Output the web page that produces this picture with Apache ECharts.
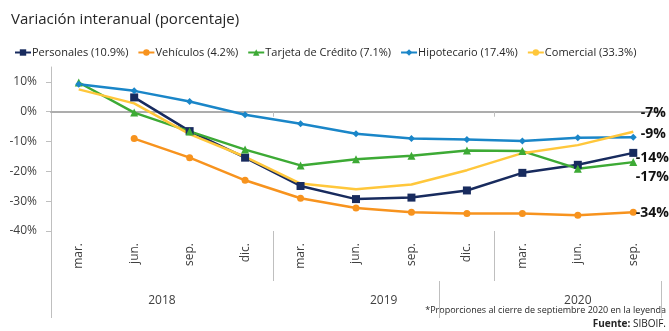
<!DOCTYPE html>
<html>
<head>
<meta charset="utf-8">
<script src="https://cdn.jsdelivr.net/npm/echarts@6/dist/echarts.min.js"></script>
<style>
  html, body { margin: 0; padding: 0; background: #fff; }
  #chart { width: 669px; height: 331px; }
</style>
</head>
<body>
<div id="chart"></div>
<script>
// Quarter-end months and their years
const months = ['mar.', 'jun.', 'sep.', 'dic.', 'mar.', 'jun.', 'sep.', 'dic.', 'mar.', 'jun.', 'sep.'];
const monthYears = ['2018', '2018', '2018', '2018', '2019', '2019', '2019', '2019', '2020', '2020', '2020'];

// Year groups on the lower axis row (label centre, in category units)
const years = ['2018', '2019', '2020'];
const yearCentres = [2, 6, 9.5];
const yearStarts = [4, 8];          // boundaries between year groups (upper row)
const yearDividers = [0, 7, 11];    // dividers drawn on the lower row

// Year-over-year change (%) by portfolio
const personales = [null, 4.8, -6.5, -15.4, -24.9, -29.3, -28.8, -26.4, -20.5, -17.8, -13.8];
const vehiculos = [null, -9.0, -15.4, -23.0, -29.0, -32.3, -33.7, -34.1, -34.1, -34.7, -33.7];
const tarjeta = [9.8, -0.3, -6.6, -12.7, -18.0, -15.9, -14.8, -13.0, -13.2, -19.1, -16.9];
const hipotecario = [9.2, 7.0, 3.4, -1.0, -4.0, -7.4, -9.0, -9.3, -9.8, -8.7, -8.6];
const comercial = [7.5, 2.8, -7.5, -15.1, -24.1, -26.0, -24.4, -19.6, -13.9, -11.2, -6.7];

const seriesNames = ['Personales (10.9%)', 'Vehículos (4.2%)', 'Tarjeta de Crédito (7.1%)', 'Hipotecario (17.4%)', 'Comercial (33.3%)'];

const categories = months.map((m, i) => m + ' ' + monthYears[i]);

const chart = echarts.init(document.getElementById('chart'), null, { renderer: 'canvas' });

const endLabelStyle = {
  show: true,
  position: 'right',
  distance: 0,
  formatter: p => Math.round(p.value) + '%',
  fontFamily: 'Open Sans',
  fontSize: 14,
  fontWeight: 'bold',
  color: '#111'
};

// Last value of each series gets its rounded value written beside it
function endMarker(values, offset) {
  const last = values.length - 1;
  return {
    silent: true,
    symbol: 'circle',
    symbolSize: 1,
    itemStyle: { color: 'rgba(0,0,0,0)' },
    label: Object.assign({}, endLabelStyle, { offset: offset }),
    data: [{ coord: [last, values[last]], value: values[last] }],
    animation: false
  };
}

function lineSeries(name, values, color, symbol, symbolSize, offset) {
  return {
    name: name,
    type: 'line',
    xAxisIndex: 0,
    data: values.map(v => (v === null ? '-' : v)),
    color: color,
    symbol: symbol,
    symbolSize: symbolSize,
    showSymbol: symbol !== 'none',
    lineStyle: { width: 2.5, color: color },
    itemStyle: { color: color },
    connectNulls: false,
    markPoint: endMarker(values, offset),
    animation: false,
    z: 3
  };
}

const axisGray = '#BFBFBF';

chart.setOption({
  animation: false,
  textStyle: { fontFamily: 'Open Sans' },
  title: {
    text: 'Variación interanual (porcentaje)',
    left: 6,
    top: 7,
    textStyle: { fontFamily: 'Open Sans', fontSize: 15, fontWeight: 'normal', color: '#262626' }
  },
  legend: {
    top: 42,
    left: 9,
    itemGap: 9,
    itemWidth: 16,
    itemHeight: 8,
    textStyle: { fontFamily: 'Open Sans', fontSize: 11, color: '#262626', padding: [0, 0, 0, -4] },
    data: seriesNames
  },
  grid: { left: 51, right: 8, top: 67, bottom: 100, containLabel: false },
  xAxis: [
    {
      // month row
      type: 'category',
      data: categories,
      boundaryGap: true,
      position: 'bottom',
      axisLine: { show: false, onZero: false },
      axisTick: { show: false },
      axisLabel: {
        rotate: 90,
        margin: 12,
        fontSize: 12,
        color: '#404040',
        formatter: v => v.split(' ')[0]
      },
      splitLine: { show: false }
    },
    {
      // upper-row dividers between years
      type: 'value',
      min: 0,
      max: 11,
      position: 'bottom',
      axisLine: { show: false, onZero: false },
      axisTick: { show: true, customValues: [0].concat(yearStarts), length: 50, lineStyle: { color: axisGray } },
      axisLabel: { show: false },
      splitLine: { show: false }
    },
    {
      // year row
      type: 'value',
      min: 0,
      max: 11,
      position: 'bottom',
      offset: 50,
      axisLine: { show: false, onZero: false },
      axisTick: { show: true, customValues: yearDividers, length: 37, lineStyle: { color: axisGray } },
      axisLabel: {
        show: true,
        customValues: yearCentres,
        margin: 14,
        fontSize: 12,
        color: '#404040',
        formatter: v => years[yearCentres.indexOf(v)]
      },
      splitLine: { show: false }
    },
    {
      // zero line with year-boundary ticks
      type: 'value',
      min: 0,
      max: 11,
      position: 'bottom',
      axisLine: { show: true, onZero: true, lineStyle: { color: '#ADADAD', width: 2 } },
      axisTick: { show: true, customValues: yearStarts, length: 5, lineStyle: { color: axisGray } },
      axisLabel: { show: false },
      splitLine: { show: false },
      z: 1
    }
  ],
  yAxis: {
    type: 'value',
    min: -40,
    max: 15,
    interval: 10,
    axisLine: { show: true, lineStyle: { color: axisGray } },
    axisTick: { show: true, length: 5, lineStyle: { color: axisGray } },
    axisLabel: {
      showMaxLabel: false,
      margin: 14,
      fontSize: 12,
      color: '#404040',
      formatter: v => v + '%'
    },
    splitLine: { show: false }
  },
  series: [
    lineSeries(seriesNames[0], personales, '#182B5E', 'rect', 8, [2, 5]),
    lineSeries(seriesNames[1], vehiculos, '#F7931E', 'circle', 7, [2, 1]),
    lineSeries(seriesNames[2], tarjeta, '#3DAA35', 'triangle', 8, [2, 15]),
    lineSeries(seriesNames[3], hipotecario, '#1A86C8', 'diamond', 7, [7, -3]),
    lineSeries(seriesNames[4], comercial, '#FFC73B', 'none', 0, [7, -19])
  ],
  graphic: [
    {
      type: 'text',
      right: 3,
      top: 306,
      style: {
        text: '*Proporciones al cierre de septiembre 2020 en la leyenda',
        font: '9px "Open Sans"',
        fill: '#262626'
      }
    },
    {
      type: 'text',
      right: 3,
      top: 319,
      style: {
        text: '{b|Fuente:} SIBOIF.',
        font: '10px "Open Sans"',
        fill: '#262626',
        rich: { b: { fontWeight: 'bold', fontSize: 10, fontFamily: 'Open Sans', fill: '#262626' } }
      }
    }
  ]
});
</script>
</body>
</html>
